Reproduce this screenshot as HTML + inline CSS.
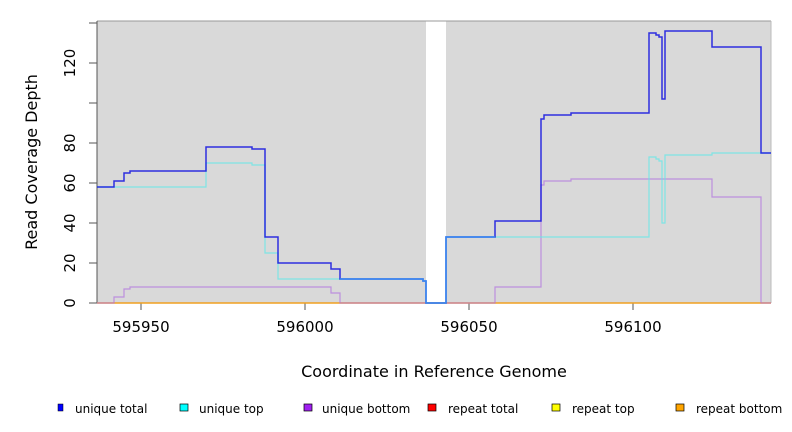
<!DOCTYPE html>
<html><head><meta charset="utf-8"><style>body{margin:0;background:#fff}svg{display:block}text{font-family:"DejaVu Sans","Liberation Sans",sans-serif}</style></head>
<body>
<svg width="792" height="432" viewBox="0 0 792 432" xmlns="http://www.w3.org/2000/svg">
<rect x="97" y="21" width="329" height="282" fill="#d9d9d9"/>
<rect x="446" y="21" width="325" height="282" fill="#d9d9d9"/>
<line x1="97" y1="21" x2="771" y2="21" stroke="#999" stroke-width="1"/>
<line x1="771" y1="21" x2="771" y2="303" stroke="#bbb" stroke-width="1"/>
<line x1="97" y1="21" x2="97" y2="303" stroke="#555" stroke-width="1"/>
<g stroke="#555" stroke-width="1">
<line x1="89" y1="303" x2="97" y2="303"/><line x1="89" y1="263" x2="97" y2="263"/><line x1="89" y1="223" x2="97" y2="223"/><line x1="89" y1="183" x2="97" y2="183"/><line x1="89" y1="143" x2="97" y2="143"/><line x1="89" y1="103" x2="97" y2="103"/><line x1="89" y1="63" x2="97" y2="63"/><line x1="89" y1="23" x2="97" y2="23"/>
<line x1="141" y1="303" x2="141" y2="310"/><line x1="305" y1="303" x2="305" y2="310"/><line x1="469" y1="303" x2="469" y2="310"/><line x1="633" y1="303" x2="633" y2="310"/>
</g>
<g font-size="15" fill="#000" text-anchor="middle">
<text transform="translate(75,303) rotate(-90)">0</text>
<text transform="translate(75,263) rotate(-90)">20</text>
<text transform="translate(75,223) rotate(-90)">40</text>
<text transform="translate(75,183) rotate(-90)">60</text>
<text transform="translate(75,143) rotate(-90)">80</text>
<text transform="translate(75,63) rotate(-90)">120</text>
<text x="141" y="332">595950</text><text x="305" y="332">596000</text><text x="469" y="332">596050</text><text x="633" y="332">596100</text>
<text x="434" y="377" font-size="16">Coordinate in Reference Genome</text>
<text transform="translate(37,162) rotate(-90)" font-size="16">Read Coverage Depth</text>
</g>
<line x1="97" y1="303" x2="771" y2="303" stroke="#f0a020" stroke-width="1.5"/>
<polyline fill="none" stroke="#b070e0" stroke-width="1.2" opacity="0.7" points="97,303 114,303 114,297 124,297 124,289 130,289 130,287 331,287 331,293 340,293 340,303 495,303 495,287 541,287 541,185 544,185 544,181 571,181 571,179 712,179 712,197 761,197 761,303 771,303"/>
<polyline fill="none" stroke="#60e8e8" stroke-width="1.2" opacity="0.75" points="97,187 206,187 206,163 252,163 252,165 265,165 265,253 278,253 278,279 423,279 423,281 426,281 426,303 446,303 446,237 649,237 649,157 656,157 656,159 659,159 659,161 662,161 662,223 665,223 665,155 712,155 712,153 771,153"/>
<polyline fill="none" stroke="#1010e0" stroke-width="1.5" opacity="0.85" points="97,187 114,187 114,181 124,181 124,173 130,173 130,171 206,171 206,147 252,147 252,149 265,149 265,237 278,237 278,263 331,263 331,269 340,269 340,279 423,279 423,281 426,281 426,303 446,303 446,237 495,237 495,221 541,221 541,119 544,119 544,115 571,115 571,113 649,113 649,33 656,33 656,35 659,35 659,37 662,37 662,99 665,99 665,31 712,31 712,47 761,47 761,153 771,153"/>
<polyline fill="none" stroke="#3a8cf0" stroke-width="1.5" points="340,279 423,279 423,281 426,281 426,303 446,303 446,237 495,237"/>
<g font-size="12" fill="#000">
<rect x="58" y="404" width="5" height="7" fill="#0000ff" stroke="#000" stroke-width="0.5"/><text x="75" y="413">unique total</text>
<rect x="180" y="404" width="8" height="7" fill="#00ffff" stroke="#000" stroke-width="0.7"/><text x="199" y="413">unique top</text>
<rect x="304" y="404" width="8" height="7" fill="#a020f0" stroke="#000" stroke-width="0.7"/><text x="322" y="413">unique bottom</text>
<rect x="428" y="404" width="8" height="7" fill="#ff0000" stroke="#000" stroke-width="0.7"/><text x="448" y="413">repeat total</text>
<rect x="552" y="404" width="8" height="7" fill="#ffff00" stroke="#000" stroke-width="0.7"/><text x="572" y="413">repeat top</text>
<rect x="676" y="404" width="8" height="7" fill="#ffa500" stroke="#000" stroke-width="0.7"/><text x="696" y="413">repeat bottom</text>
</g>
</svg>
</body></html>
